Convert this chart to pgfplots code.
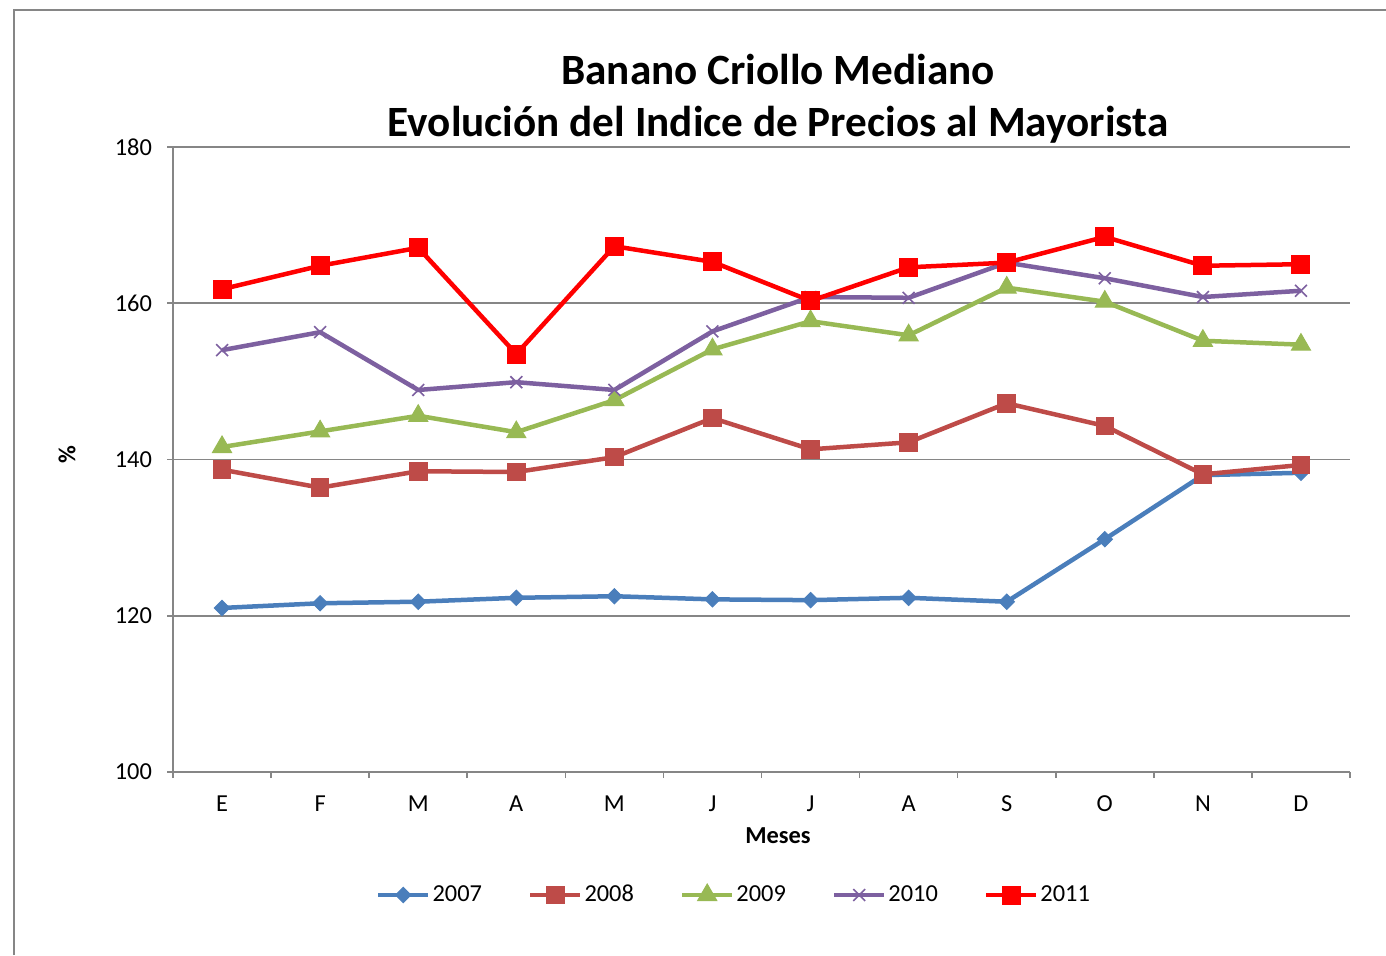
\documentclass[border=0pt]{standalone}
\usepackage{pgfplots}
\pgfplotsset{compat=1.18}
\usepackage{fontspec}
\setmainfont{Carlito}
\definecolor{c07}{HTML}{4A7EBB}
\definecolor{c08}{HTML}{BE4B48}
\definecolor{c09}{HTML}{98B954}
\definecolor{c10}{HTML}{7D60A0}
\definecolor{c11}{HTML}{FF0000}
\definecolor{gridgray}{HTML}{868686}
\begin{document}
\begin{tikzpicture}
\useasboundingbox (0pt,0pt) rectangle (693pt,-477.5pt);
\draw[gridgray, line width=1pt] (7pt,-477.5pt) -- (7pt,-5pt) -- (693pt,-5pt);
\begin{axis}[
  at={(86.5pt,-386pt)}, anchor=south west,
  width=588.5pt, height=312.5pt, scale only axis,
  xmin=-0.5, xmax=11.5, ymin=100, ymax=180,
  axis lines*=left,
  axis line style={gridgray, line width=0.8pt},
  xtick={0,...,11},
  xticklabels={E,F,M,A,M,J,J,A,S,O,N,D},
  minor xtick={-0.5,0.5,...,11.5},
  major x tick style={draw=none},
  minor x tick style={gridgray, line width=0.8pt},
  minor tick length=3pt,
  ytick={100,120,140,160,180},
  ytick style={gridgray, line width=0.8pt},
  major tick length=3pt,
  tick align=outside,
  ymajorgrids,
  major grid style={gridgray, line width=0.8pt},
  tick label style={font=\fontsize{12.2}{14}\selectfont},
  /pgf/number format/assume math mode=true,
  yticklabel style={xshift=-4pt},
  xticklabel style={yshift=-5.5pt},
  legend columns=5,
  legend style={at={(0.4766,-0.1968)}, anchor=center, draw=none, fill=none,
    font=\fontsize{12.2}{14}\selectfont,
    nodes={inner xsep=1pt},
    /tikz/every even column/.append style={column sep=22pt},
    inner sep=0pt},
  legend image code/.code={\draw[mark repeat=2,mark phase=2,#1] plot coordinates {(0pt,0pt) (12.5pt,0pt) (25pt,0pt)};},
  legend cell align=left,
  clip=false,
]
\addplot[c07, line width=2.25pt, mark=square*, mark size=2.7pt, mark options={solid, line width=0.5pt, rotate=45}] coordinates {
(0,121.0) (1,121.6) (2,121.8) (3,122.3) (4,122.5) (5,122.1) (6,122.0) (7,122.3) (8,121.8) (9,129.8) (10,138.0) (11,138.3)};
\addlegendentry{2007}
\addplot[c08, line width=2.25pt, mark=square*, mark size=4.4pt, mark options={solid, line width=0.5pt}] coordinates {
(0,138.7) (1,136.4) (2,138.5) (3,138.4) (4,140.3) (5,145.3) (6,141.3) (7,142.2) (8,147.2) (9,144.3) (10,138.1) (11,139.3)};
\addlegendentry{2008}
\addplot[c09, line width=2.25pt, mark=triangle*, mark size=5.5pt, mark options={solid, line width=0.5pt}] coordinates {
(0,141.6) (1,143.6) (2,145.6) (3,143.5) (4,147.6) (5,154.1) (6,157.7) (7,155.9) (8,162.0) (9,160.2) (10,155.2) (11,154.7)};
\addlegendentry{2009}
\addplot[c10, line width=2.25pt, mark=x, mark size=4.2pt, mark options={solid, line width=0.8pt}] coordinates {
(0,154.0) (1,156.3) (2,148.9) (3,149.9) (4,148.9) (5,156.4) (6,160.8) (7,160.7) (8,165.2) (9,163.2) (10,160.8) (11,161.6)};
\addlegendentry{2010}
\addplot[c11, line width=2.25pt, mark=square*, mark size=4.5pt, mark options={solid, line width=0.5pt}] coordinates {
(0,161.8) (1,164.8) (2,167.1) (3,153.5) (4,167.3) (5,165.3) (6,160.3) (7,164.6) (8,165.2) (9,168.5) (10,164.8) (11,165.0)};
\addlegendentry{2011}
\end{axis}
\node[font=\fontsize{21.6}{26}\selectfont\bfseries, align=center] at (389pt,-49.5pt) {Banano Criollo Mediano\\Evolución del Indice de Precios al Mayorista};
\node[font=\fontsize{12.2}{14}\selectfont\bfseries] at (389pt,-418pt) {Meses};
\node[font=\fontsize{12.2}{14}\selectfont\bfseries, rotate=90] at (33.5pt,-227.5pt) {\%};
\end{tikzpicture}
\end{document}
